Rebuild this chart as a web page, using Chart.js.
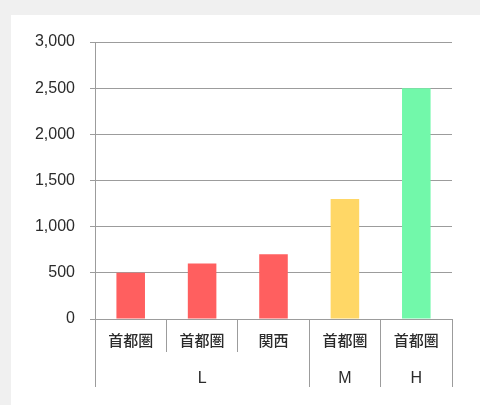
<!DOCTYPE html>
<html>
<head>
<meta charset="utf-8">
<script src="https://cdn.jsdelivr.net/npm/chart.js@4"></script>
<style>
    body { margin: 0; background: #f0f0f0; }
    #panel { position: absolute; left: 11px; top: 15px; width: 469px; height: 390px; background: #fff; }
</style>
</head>
<body>
<div id="panel"><canvas id="chart" width="469" height="390"></canvas></div>
<script>
const regions = ["首都圏", "首都圏", "関西", "首都圏", "首都圏"]
const tiers = ["", "L", "", "M", "H"]
const amounts = [500, 600, 700, 1300, 2500]

const lineGray = "#9c9c9c"
const textColor = "#2b2b2b"

new Chart(document.getElementById("chart").getContext("2d"), {
    type: "bar",
    data: {
        labels: regions,
        datasets: [{
            data: amounts,
            backgroundColor: ["#ff5f5f", "#ff5f5f", "#ff5f5f", "#ffd766", "#72f8aa"],
            categoryPercentage: 1,
            barPercentage: 0.4
        }]
    },
    options: {
        responsive: false,
        animation: false,
        layout: { padding: { top: 27, right: 28, bottom: 18, left: 0 } },
        plugins: { legend: { display: false }, tooltip: { enabled: false } },
        scales: {
            x: {
                weight: 0,
                offset: true,
                grid: { offset: true, drawOnChartArea: false, tickLength: 33, color: lineGray },
                border: { color: lineGray },
                ticks: {
                    maxRotation: 0,
                    padding: -21,
                    color: textColor,
                    font: { family: "'Noto Sans CJK JP', sans-serif", size: 15, weight: 500 }
                },
                afterFit: axis => { axis.height = 33 }
            },
            group: {
                type: "category",
                position: "bottom",
                labels: tiers,
                weight: 1,
                offset: true,
                grid: {
                    offset: true,
                    drawOnChartArea: false,
                    tickLength: 35,
                    // only the boundaries between L / M / H
                    color: ctx => (ctx.index === 1 || ctx.index === 2) ? "transparent" : lineGray
                },
                border: { display: false },
                ticks: {
                    maxRotation: 0,
                    autoSkip: false,
                    padding: -18,
                    color: textColor,
                    font: { family: "'Liberation Sans', Arial, sans-serif", size: 16 }
                },
                afterFit: axis => { axis.height = 35 }
            },
            y: {
                min: 0,
                max: 3000,
                ticks: {
                    stepSize: 500,
                    padding: 15,
                    color: textColor,
                    font: { family: "'Liberation Sans', Arial, sans-serif", size: 16 },
                    callback: v => v.toLocaleString("en-US")
                },
                grid: { color: lineGray, tickLength: 5 },
                border: { color: lineGray },
                afterFit: axis => { axis.width = 84 }
            }
        }
    }
})
</script>
</body>
</html>
